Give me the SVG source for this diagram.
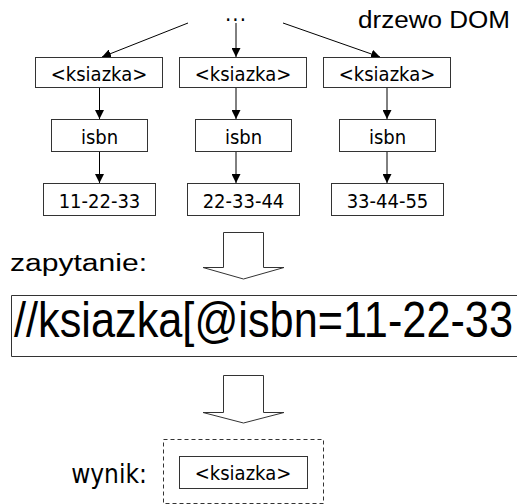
<svg xmlns="http://www.w3.org/2000/svg" width="517" height="504" viewBox="0 0 517 504">
<style>
.box{fill:#fff;stroke:#333;stroke-width:1}
.t{font-family:"DejaVu Sans Condensed","DejaVu Sans",sans-serif;font-stretch:condensed;font-size:20px;fill:#000;text-anchor:middle}
.a{font-family:"Liberation Sans",Arial,sans-serif;fill:#000}
.c{stroke:#000;stroke-width:1;fill:none;marker-end:url(#ah)}
.blk{fill:#fff;stroke:#333;stroke-width:1}
</style>
<defs>
<marker id="ah" viewBox="0 0 10 10" refX="10" refY="5" markerWidth="9" markerHeight="9" markerUnits="userSpaceOnUse" orient="auto">
<path d="M0,0 L10,5 L0,10 Z" fill="#000"/>
</marker>
</defs>
<text class="t" x="236" y="21" style="font-size:22px;letter-spacing:1px">...</text>
<text class="a" x="358" y="28" font-size="23" textLength="152" lengthAdjust="spacingAndGlyphs">drzewo DOM</text>
<g id="connectors">
<line class="c" x1="188" y1="23" x2="102" y2="57"/>
<line class="c" x1="236" y1="23" x2="236" y2="57"/>
<line class="c" x1="283" y1="23" x2="380" y2="57"/>
<line class="c" x1="99.5" y1="87" x2="99.5" y2="119"/>
<line class="c" x1="99.5" y1="152" x2="99.5" y2="183"/>
<line class="c" x1="236" y1="87" x2="236" y2="119"/>
<line class="c" x1="236" y1="152" x2="236" y2="183"/>
<line class="c" x1="387" y1="87" x2="387" y2="119"/>
<line class="c" x1="387" y1="152" x2="387" y2="183"/>
</g>
<g id="k1"><rect class="box" x="35.5" y="57.5" width="127" height="30"/><text class="t" x="99" y="81">&lt;ksiazka&gt;</text></g>
<g id="k2"><rect class="box" x="179.5" y="57.5" width="127" height="30"/><text class="t" x="243" y="81">&lt;ksiazka&gt;</text></g>
<g id="k3"><rect class="box" x="323.5" y="57.5" width="127" height="30"/><text class="t" x="387" y="81">&lt;ksiazka&gt;</text></g>
<g id="i1"><rect class="box" x="51.5" y="119.5" width="96" height="32"/><text class="t" x="99.5" y="144">isbn</text></g>
<g id="i2"><rect class="box" x="195.5" y="119.5" width="96" height="32"/><text class="t" x="243.5" y="144">isbn</text></g>
<g id="i3"><rect class="box" x="339.5" y="119.5" width="96" height="32"/><text class="t" x="387.5" y="144">isbn</text></g>
<g id="v1"><rect class="box" x="43.5" y="183.5" width="112" height="32"/><text class="t" x="99.5" y="208">11-22-33</text></g>
<g id="v2"><rect class="box" x="187.5" y="183.5" width="112" height="32"/><text class="t" x="243.5" y="208">22-33-44</text></g>
<g id="v3"><rect class="box" x="331.5" y="183.5" width="112" height="32"/><text class="t" x="387.5" y="208">33-44-55</text></g>
<g id="arrow1"><polygon class="blk" points="223.5,232.5 263.5,232.5 263.5,267.5 284,267.5 243.5,279 203,267.5 223.5,267.5"/></g>
<text class="a" x="10" y="271" font-size="23" textLength="137" lengthAdjust="spacingAndGlyphs">zapytanie:</text>
<g id="query"><path d="M517,295.5 H11.5 V356.5 H517" fill="#fff" stroke="#333" stroke-width="1"/><text class="a" x="14" y="337" font-size="50" textLength="499" lengthAdjust="spacingAndGlyphs">//ksiazka[@isbn=11-22-33</text></g>
<g id="arrow2"><polygon class="blk" points="223.5,375.5 263.5,375.5 263.5,412.5 284,412.5 243.5,423 203,412.5 223.5,412.5"/></g>
<text class="t" x="109" y="483" style="font-size:26px">wynik:</text>
<g id="result">
<rect x="163.5" y="439.5" width="160" height="64" fill="none" stroke="#333" stroke-width="1" stroke-dasharray="4,3"/>
<rect class="box" x="179.5" y="456.5" width="128" height="32"/>
<text class="t" x="243" y="480">&lt;ksiazka&gt;</text>
</g>
</svg>
